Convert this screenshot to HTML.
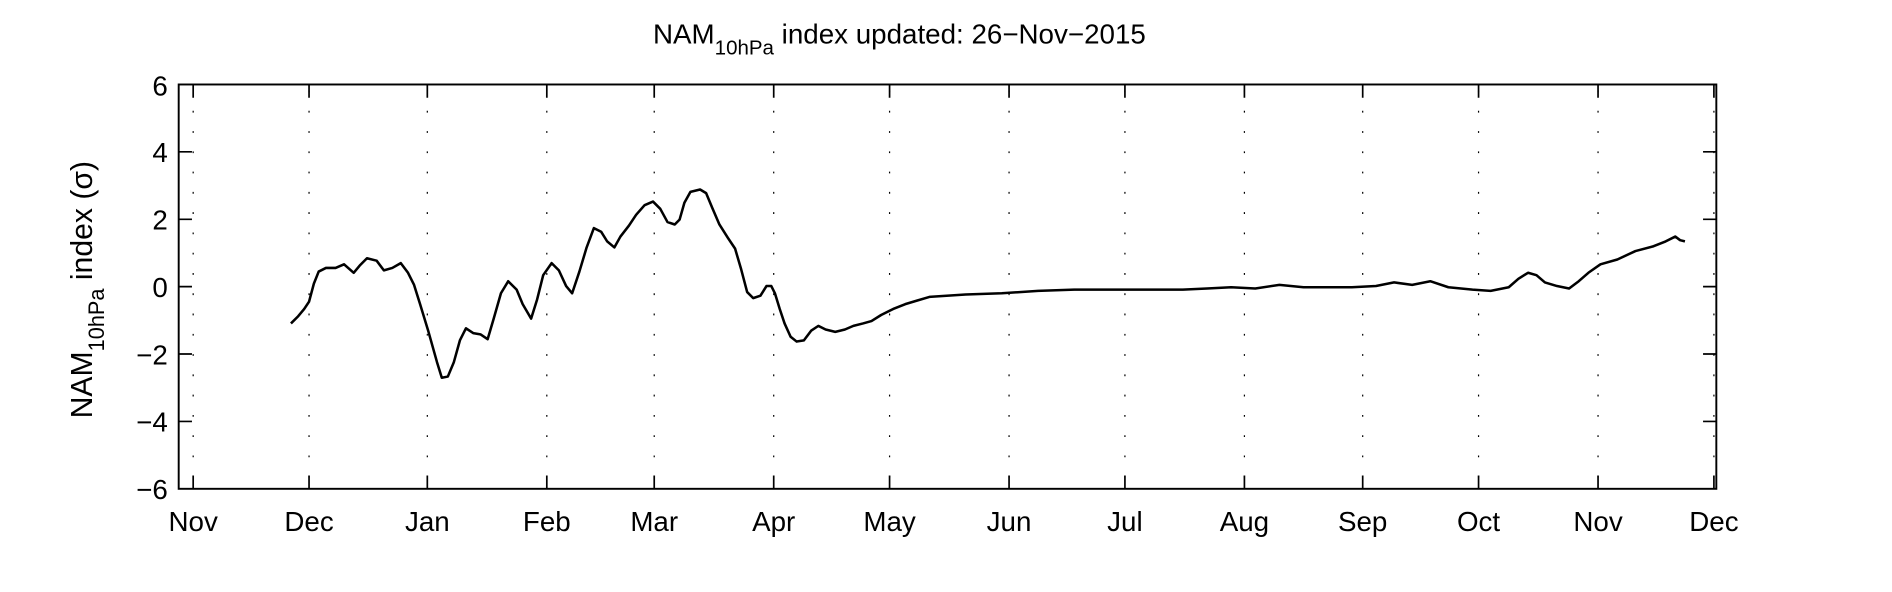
<!DOCTYPE html>
<html><head><meta charset="utf-8"><style>html,body{margin:0;padding:0;background:#fff}svg{display:block}</style></head>
<body>
<svg width="1892" height="592" viewBox="0 0 1567.5 490.5" xmlns="http://www.w3.org/2000/svg" font-family="Liberation Sans, Arial, sans-serif">
<rect width="1567.5" height="490.5" fill="#fff"/>
<g stroke="#000" stroke-width="1" stroke-dasharray="1.5 15.3" fill="none">
<line x1="256" y1="75" x2="256" y2="405"/>
<line x1="354" y1="75" x2="354" y2="405"/>
<line x1="453" y1="75" x2="453" y2="405"/>
<line x1="542" y1="75" x2="542" y2="405"/>
<line x1="641" y1="75" x2="641" y2="405"/>
<line x1="737" y1="75" x2="737" y2="405"/>
<line x1="836" y1="75" x2="836" y2="405"/>
<line x1="932" y1="75" x2="932" y2="405"/>
<line x1="1031" y1="75" x2="1031" y2="405"/>
<line x1="1129" y1="75" x2="1129" y2="405"/>
<line x1="1225" y1="75" x2="1225" y2="405"/>
<line x1="1324" y1="75" x2="1324" y2="405"/>
<line x1="160" y1="75" x2="160" y2="405"/>
<line x1="1420" y1="75" x2="1420" y2="405"/>
</g>
<rect x="148" y="70" width="1274" height="335" fill="none" stroke="#000" stroke-width="1.6"/>
<g stroke="#000" stroke-width="1.4">
<path d="M160 70v11M256 70v11M354 70v11M453 70v11M542 70v11M641 70v11M737 70v11M836 70v11M932 70v11M1031 70v11M1129 70v11M1225 70v11M1324 70v11M1420 70v11"/>
<path d="M160 405v-11M256 405v-11M354 405v-11M453 405v-11M542 405v-11M641 405v-11M737 405v-11M836 405v-11M932 405v-11M1031 405v-11M1129 405v-11M1225 405v-11M1324 405v-11M1420 405v-11"/>
<path d="M148 125.8h11M148 181.7h11M148 237.5h11M148 293.3h11M148 349.2h11M1422 125.8h-11M1422 181.7h-11M1422 237.5h-11M1422 293.3h-11M1422 349.2h-11"/>
</g>
<g font-size="23" text-anchor="end" fill="#000">
<text x="139" y="79">6</text>
<text x="139" y="134.3">4</text>
<text x="139" y="190.2">2</text>
<text x="139" y="246">0</text>
<text x="139" y="301.8">−2</text>
<text x="139" y="357.7">−4</text>
<text x="139" y="413.5">−6</text>
</g>
<g font-size="23" text-anchor="middle" fill="#000">
<text x="160" y="440">Nov</text><text x="256" y="440">Dec</text><text x="354" y="440">Jan</text>
<text x="453" y="440">Feb</text><text x="542" y="440">Mar</text><text x="641" y="440">Apr</text>
<text x="737" y="440">May</text><text x="836" y="440">Jun</text><text x="932" y="440">Jul</text>
<text x="1031" y="440">Aug</text><text x="1129" y="440">Sep</text><text x="1225" y="440">Oct</text>
<text x="1324" y="440">Nov</text><text x="1420" y="440">Dec</text>
</g>
<text x="541" y="36" font-size="23" fill="#000">NAM<tspan font-size="17" dy="9">10hPa</tspan><tspan dy="-9"> index updated: 26−Nov−2015</tspan></text>
<text transform="translate(76,240) rotate(-90)" text-anchor="middle" font-size="25" fill="#000">NAM<tspan font-size="18" dy="10">10hPa</tspan><tspan dy="-10"> index (σ)</tspan></text>
<path fill="none" stroke="#000" stroke-width="2.1" stroke-linejoin="round" d="M241 268L247 262L252 256L256 250L260 235L264 225L270 222L278 222L285 219L293 226L298 220L304 214L312 216L318 224L325 222L332 218L338 226L343 236L348 252L355 275L362 300L366 313L371 312L376 300L381 282L386 272L392 276L398 277L404 281L409 264L415 243L421 233L428 240L433 252L440 264L445 248L450 228L457 218L463 224L469 237L474 243L480 225L486 205L492 189L498 192L503 200L509 205L514 196L521 187L527 178L534 170L541 167L547 173L553 184L559 186L563 182L567 168L572 159L580 157L585 160L590 172L596 186L603 197L609 206L614 223L619 242L624 247L630 245L635 237L639 237L642 243L646 256L650 268L655 279L660 283L666 282L672 274L678 270L684 273L692 275L700 273L707 270L715 268L722 266L730 261L740 256L750 252L760 249L770 246L800 244L830 243L860 241L890 240L920 240L950 240L980 240L1000 239L1020 238L1040 239L1060 236L1080 238L1100 238L1120 238L1140 237L1155 234L1170 236L1185 233L1200 238L1220 240L1235 241L1250 238L1258 231L1266 226L1273 228L1280 234L1290 237L1300 239L1308 233L1316 226L1326 219L1340 215L1355 208L1370 204L1380 200L1388 196L1392 199L1396 200"/>
</svg>
</body></html>
